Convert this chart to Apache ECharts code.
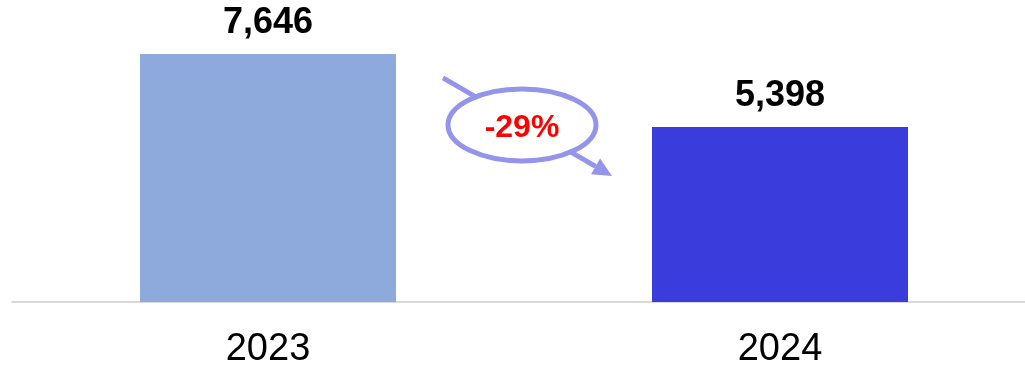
<!DOCTYPE html>
<html>
<head>
<meta charset="utf-8">
<script src="https://cdn.jsdelivr.net/npm/echarts@6/dist/echarts.min.js"></script>
<style>
  html, body { margin: 0; padding: 0; background: #ffffff; }
  #chart { width: 1025px; height: 368px; }
</style>
</head>
<body>
<div id="chart"></div>
<script>
// Yearly totals
const years = ['2023', '2024'];
const totals = [7646, 5398];
const barColors = ['#8eaadc', '#3a3cdc'];

const FONT = 'Liberation Sans, Arial, sans-serif';
const chart = echarts.init(document.getElementById('chart'), null, { renderer: 'canvas' });

chart.setOption({
  animation: false,
  grid: { left: 12, width: 1024, top: 54, bottom: 66, containLabel: false, outerBoundsMode: 'none' },
  xAxis: {
    type: 'category',
    data: years,
    axisLine: { show: true, lineStyle: { color: '#d9d9d9', width: 2 } },
    axisTick: { show: false },
    axisLabel: { fontFamily: FONT, fontSize: 38, color: '#000', margin: 29 }
  },
  yAxis: {
    type: 'value',
    min: 0,
    max: Math.max(...totals),
    show: false,
    splitLine: { show: false }
  },
  series: [{
    type: 'bar',
    barWidth: '50%',
    data: totals.map((v, i) => ({ value: v, itemStyle: { color: barColors[i] } })),
    label: {
      show: true,
      position: 'top',
      distance: 13,
      fontFamily: FONT,
      fontSize: 36,
      fontWeight: 'bold',
      color: '#000',
      formatter: p => p.value.toLocaleString('en-US')
    }
  }]
});

// Change badge between the two bars, placed from the axis scales
function drawChange() {
  const x0 = chart.convertToPixel({ xAxisIndex: 0 }, years[0]);
  const x1 = chart.convertToPixel({ xAxisIndex: 0 }, years[1]);
  const yc = chart.convertToPixel({ yAxisIndex: 0 }, totals[1]) - 2;
  const cx = (x0 + x1) / 2 - 2;
  const pct = Math.round((totals[1] - totals[0]) / totals[0] * 100);

  const sx = cx - 79, sy = yc - 47;
  const ex = cx + 90, ey = yc + 51;
  const ang = Math.atan2(ey - sy, ex - sx);
  const headLen = 19, headHalf = 9;
  const bx = ex - headLen * Math.cos(ang), by = ey - headLen * Math.sin(ang);
  const nx = -Math.sin(ang), ny = Math.cos(ang);
  const stroke = '#9495ea';

  chart.setOption({
    graphic: [
      {
        type: 'line', z: 10,
        shape: { x1: sx, y1: sy, x2: bx, y2: by },
        style: { stroke: stroke, lineWidth: 5 }
      },
      {
        type: 'polygon', z: 10,
        shape: { points: [[ex, ey], [bx + nx * headHalf, by + ny * headHalf], [bx - nx * headHalf, by - ny * headHalf]] },
        style: { fill: stroke }
      },
      {
        type: 'ellipse', z: 11,
        shape: { cx: cx, cy: yc, rx: 74, ry: 36 },
        style: { fill: '#ffffff', stroke: stroke, lineWidth: 5 }
      },
      {
        type: 'text', z: 12,
        x: cx, y: yc + 3,
        style: {
          text: pct + '%',
          fontFamily: FONT, fontSize: 32, fontWeight: 'bold',
          fill: '#ff0000', align: 'center', verticalAlign: 'middle'
        }
      }
    ]
  });
}
drawChange();
</script>
</body>
</html>
